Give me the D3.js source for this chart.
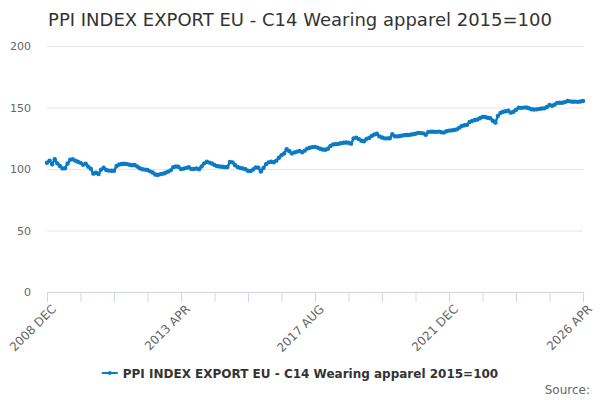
<!DOCTYPE html>
<html>
<head>
<meta charset="utf-8">
<script src="https://cdn.jsdelivr.net/npm/d3@7"></script>
<style>
  body { margin: 0; background: #fff; }
  text { font-family: "DejaVu Sans", Verdana, sans-serif; }
</style>
</head>
<body>
<div id="chart"></div>
<script>
// months run from 2008 DEC, one value per month
var startYear = 2008, startMonth = 11;
var values = [
  105.1,
  106.8, 103.8, 107.9, 104.6, 102.5, 100.5, 100.6, 104.5, 107.6, 107.9, 106.8, 105.9,
  105.0, 103.5, 104.4, 101.9, 100.2, 96.2, 96.9, 95.9, 99.5, 101.0, 99.2, 98.7,
  98.6, 98.6, 102.4, 103.6, 104.1, 104.3, 104.0, 103.4, 103.1, 103.3, 102.0, 100.6,
  99.8, 99.5, 99.2, 98.1, 97.2, 95.5, 95.2, 95.8, 96.2, 97.0, 97.9, 98.9,
  101.5, 102.0, 101.8, 99.9, 100.3, 100.9, 101.4, 100.1, 100.0, 100.5, 99.8, 102.1,
  104.6, 105.9, 105.2, 104.5, 103.3, 102.3, 102.0, 101.8, 101.5, 101.6, 105.8, 105.4,
  103.1, 101.6, 100.9, 100.4, 99.8, 98.6, 98.4, 99.6, 101.3, 101.1, 98.0, 100.8,
  104.0, 105.4, 105.9, 105.5, 106.8, 109.1, 111.3, 112.6, 116.0, 114.6, 112.7, 113.5,
  114.1, 114.7, 113.6, 114.9, 116.6, 117.3, 117.8, 118.0, 117.4, 116.5, 115.8, 115.6,
  116.5, 118.8, 120.0, 120.2, 120.4, 120.9, 121.4, 121.5, 121.3, 120.6, 124.9, 125.5,
  124.3, 123.0, 122.6, 124.5, 125.3, 126.8, 128.0, 128.6, 126.5, 125.6, 124.9, 124.9,
  125.0, 128.3, 126.6, 126.5, 126.8, 127.2, 127.6, 127.7, 127.9, 128.2, 128.6, 129.4,
  129.2, 129.0, 127.8, 130.2, 130.3, 130.3, 130.2, 130.4, 129.9, 129.6, 130.7, 131.2,
  131.4, 131.7, 132.2, 133.6, 135.0, 135.6, 135.9, 138.3, 139.1, 139.8, 140.3, 141.3,
  142.4, 142.3, 141.7, 141.3, 139.2, 137.7, 143.2, 145.6, 146.6, 147.0, 147.3, 145.8,
  146.6, 148.1, 149.8, 149.7, 149.9, 150.0, 149.4, 148.6, 148.4, 148.5, 148.9, 149.2,
  149.3, 150.4, 152.0, 151.4, 152.3, 153.8, 153.9, 153.9, 154.4, 155.3, 155.0, 154.7,
  154.8, 154.6, 154.9, 155.3
];
var yTicks = [0, 50, 100, 150, 200];
var monthNames = ["JAN", "FEB", "MAR", "APR", "MAY", "JUN", "JUL", "AUG", "SEP", "OCT", "NOV", "DEC"];
var tickStep = 13;     // months between x ticks
var labelEvery = 4;    // label every 4th tick
var title = "PPI INDEX EXPORT EU - C14 Wearing apparel 2015=100";
var color = "#0a7bc4";

var width = 600, height = 400;
var margin = { top: 46, right: 17, bottom: 108, left: 47 };

var svg = d3.select("#chart").append("svg")
    .attr("width", width)
    .attr("height", height);

var data = values.map(function (v, i) {
    return { i: i, v: v };
});

var x = d3.scaleLinear()
    .domain([0, values.length - 1])
    .range([margin.left, width - margin.right]);

var y = d3.scaleLinear()
    .domain([0, 200])
    .range([height - margin.bottom, margin.top]);

function monthLabel(i) {
    var m = startMonth + i;
    return (startYear + Math.floor(m / 12)) + " " + monthNames[m % 12];
}

// title
svg.append("text")
    .attr("x", width / 2)
    .attr("y", 26)
    .attr("text-anchor", "middle")
    .attr("fill", "#333")
    .style("font-size", "18px")
    .text(title);

// grid + y labels
var yAxis = svg.append("g")
    .attr("transform", "translate(" + margin.left + ",0)")
    .call(d3.axisLeft(y).tickValues(yTicks).tickSize(-(width - margin.left - margin.right)).tickPadding(16));
yAxis.select(".domain").remove();
yAxis.selectAll(".tick line").attr("stroke", "#e6e6e6");
yAxis.selectAll(".tick text").attr("fill", "#666").style("font-size", "11px");

// x axis
var xTickVals = d3.range(0, values.length, tickStep);
var xAxis = svg.append("g")
    .attr("transform", "translate(0," + (height - margin.bottom) + ")")
    .call(d3.axisBottom(x).tickValues(xTickVals).tickSize(10).tickSizeOuter(0)
        .tickFormat(function (d, k) { return k % labelEvery === 0 ? monthLabel(d) : ""; }));
xAxis.select(".domain").attr("stroke", "#ccd6eb");
xAxis.selectAll(".tick line").attr("stroke", "#ccd6eb");
xAxis.selectAll(".tick text")
    .attr("fill", "#666")
    .style("font-size", "12px")
    .attr("text-anchor", "end")
    .attr("dx", "0")
    .attr("dy", "0.35em")
    .attr("transform", "rotate(-45)")
    .attr("y", 15)
    .attr("x", -6);

// line
var line = d3.line()
    .x(function (d) { return x(d.i); })
    .y(function (d) { return y(d.v); });

svg.append("path")
    .datum(data)
    .attr("fill", "none")
    .attr("stroke", color)
    .attr("stroke-width", 2.5)
    .attr("d", line);

svg.append("g").selectAll("circle")
    .data(data)
    .enter().append("circle")
    .attr("cx", function (d) { return x(d.i); })
    .attr("cy", function (d) { return y(d.v); })
    .attr("r", 2.2)
    .attr("fill", color);

// legend
var legend = svg.append("g").attr("transform", "translate(0,373)");
var legendText = legend.append("text")
    .attr("x", 122)
    .attr("y", 4.5)
    .attr("fill", "#333")
    .style("font-size", "12px")
    .style("font-weight", "bold")
    .text(title);
var tw = legendText.node().getComputedTextLength();
var lx = (width - tw - 21) / 2;
legendText.attr("x", lx + 21);
legend.append("line")
    .attr("x1", lx).attr("x2", lx + 16)
    .attr("y1", 0).attr("y2", 0)
    .attr("stroke", color).attr("stroke-width", 2);
legend.append("circle")
    .attr("cx", lx + 8).attr("cy", 0).attr("r", 2)
    .attr("fill", color);

// source
svg.append("text")
    .attr("x", 590)
    .attr("y", 394)
    .attr("text-anchor", "end")
    .attr("fill", "#666")
    .style("font-size", "12px")
    .text("Source:");
</script>
</body>
</html>
